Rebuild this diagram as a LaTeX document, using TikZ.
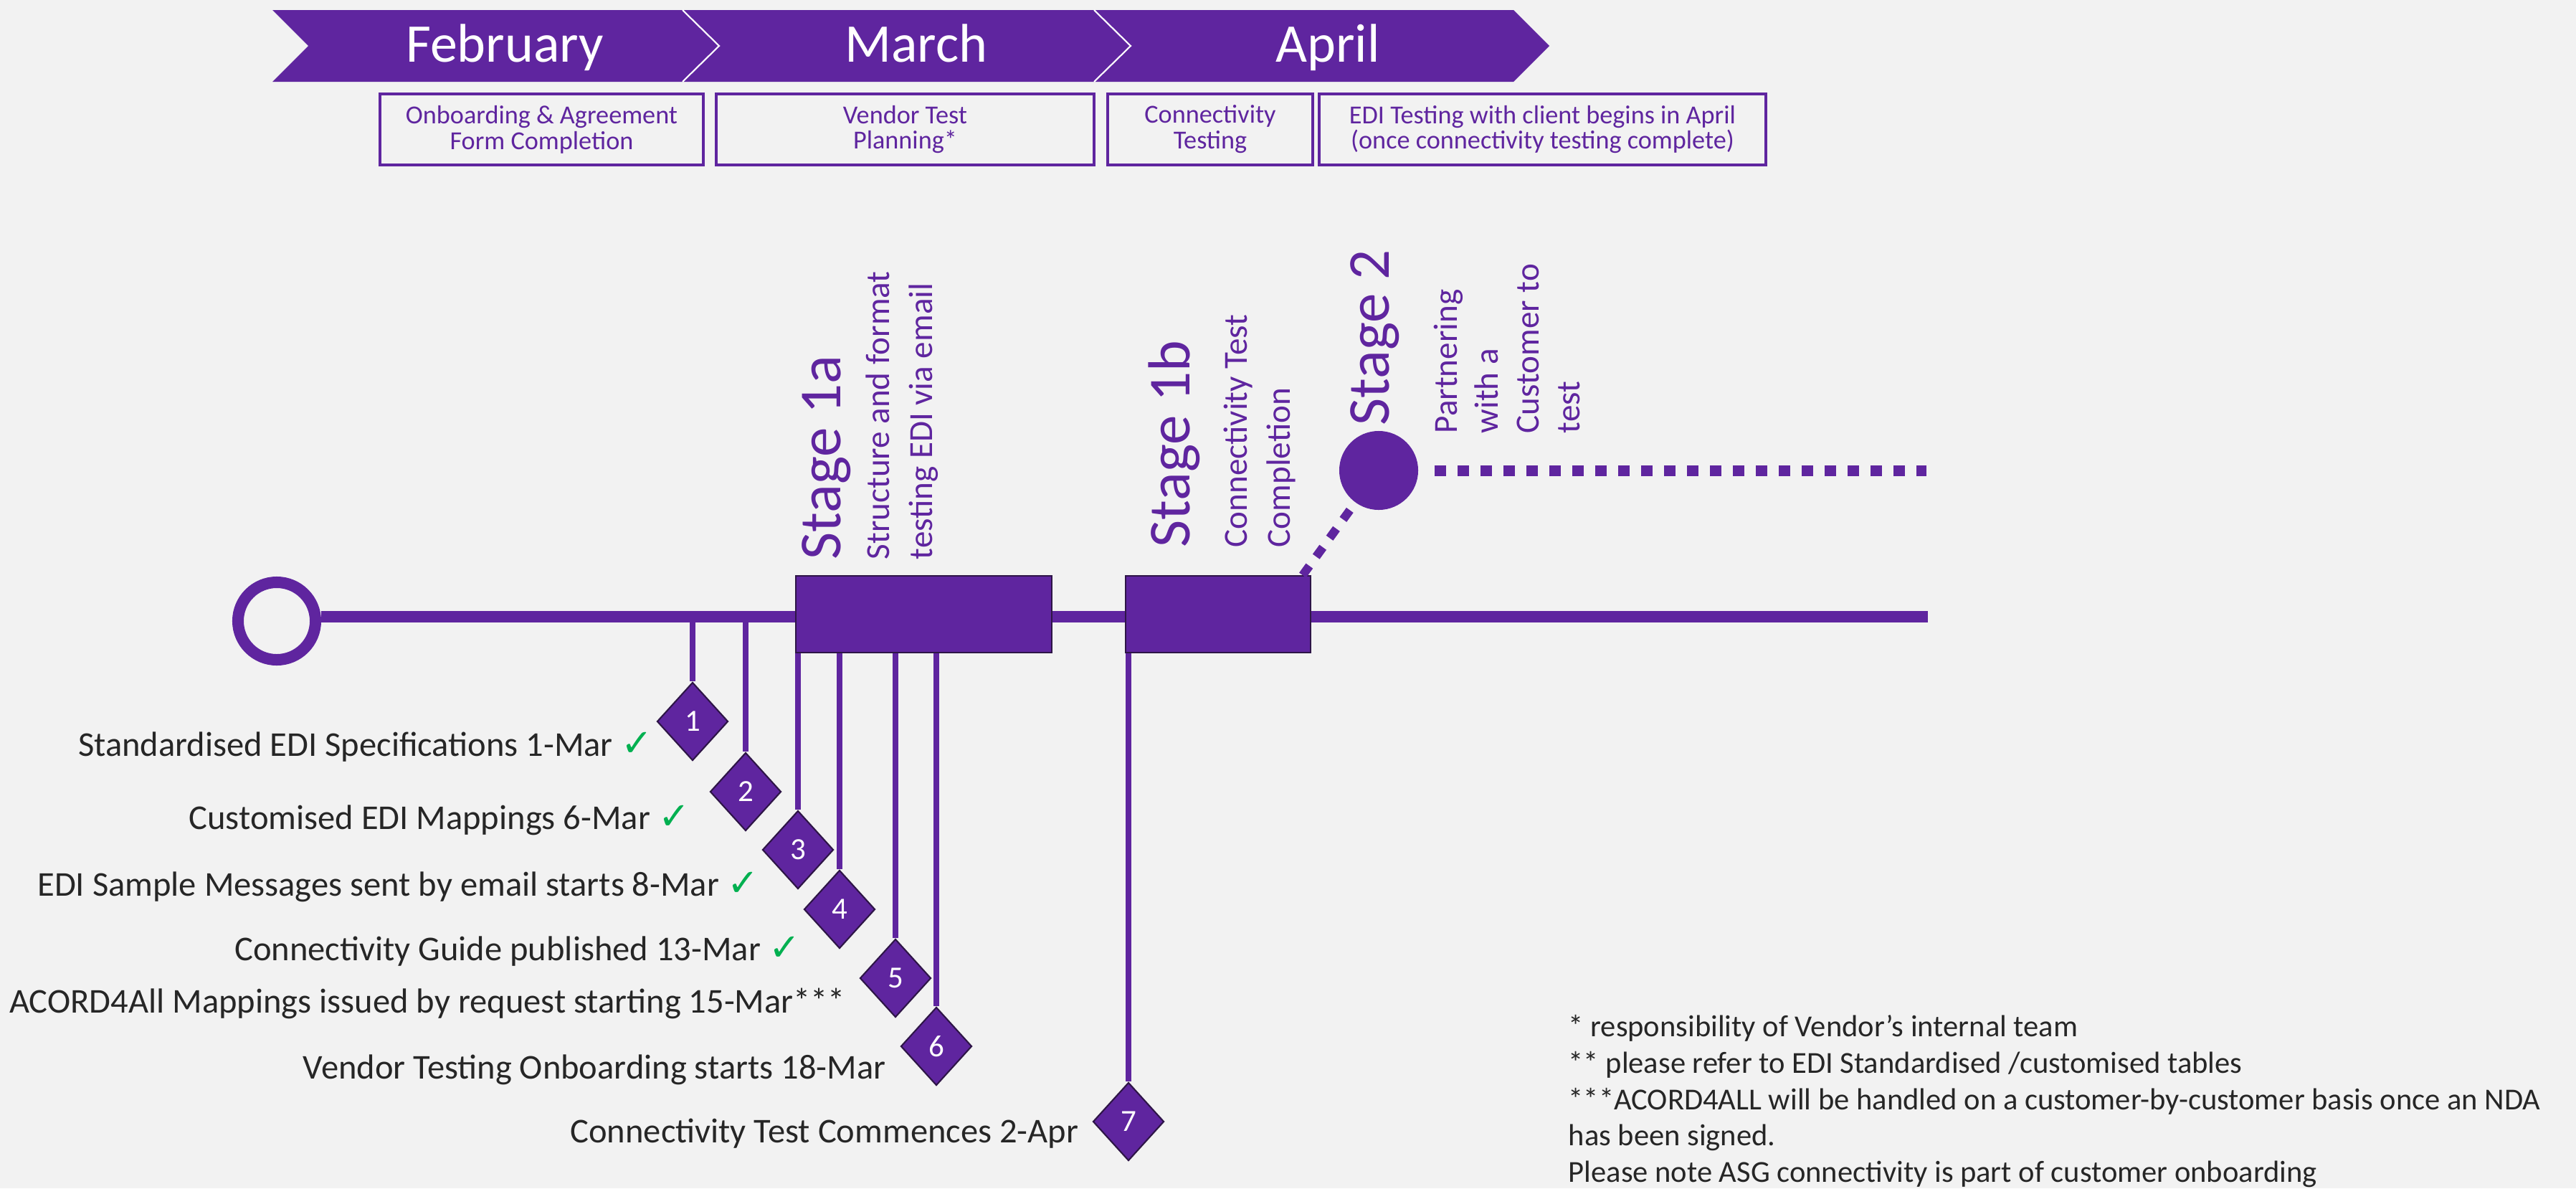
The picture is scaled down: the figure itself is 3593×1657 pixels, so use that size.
\documentclass[tikz,border=0pt]{standalone}
\usepackage{fontspec}
\setmainfont{Carlito}
\newfontfamily\ticksym{DejaVu Sans}
\usetikzlibrary{shapes.geometric, positioning}

\definecolor{asgpurple}{HTML}{5F259F}
\definecolor{bggray}{HTML}{F2F2F2}
\definecolor{darkline}{HTML}{2E1547}
\definecolor{okgreen}{HTML}{00B050}
\definecolor{labelgray}{HTML}{262626}

\newcommand{\done}{ {\ticksym\fontsize{15}{16}\selectfont\color{okgreen}✓}}

\begin{document}
\begin{tikzpicture}
  [x=0.01cm, y=-0.01cm,
   month/.style={text=white,font=\fontsize{21.6}{26}\selectfont,anchor=base,inner sep=0},
   phase/.style={rectangle,draw=asgpurple,line width=1.1pt,text=asgpurple,align=center,
                 font=\fontsize{10.3}{10.2}\selectfont,minimum height=0.99cm,inner sep=0},
   stagebox/.style={rectangle,fill=asgpurple,draw=darkline,line width=0.5pt,minimum height=1.07cm,inner sep=0},
   milestone/.style={diamond,fill=asgpurple,draw=darkline,line width=0.6pt,minimum width=0.99cm,
                     minimum height=1.09cm,inner sep=0,text=white,font=\fontsize{12.2}{14}\selectfont},
   tickline/.style={asgpurple,line width=2.2pt},
   mlabel/.style={text=labelgray,anchor=base east,inner sep=0,font=\fontsize{13.8}{16}\selectfont},
   stagetitle/.style={rotate=90,anchor=north west,inner sep=0,text=asgpurple,font=\fontsize{23.6}{28}\selectfont},
   stagetext/.style={rotate=90,anchor=north west,inner sep=0,text=asgpurple,align=left,font=\fontsize{13.4}{17}\selectfont},
   squaredots/.style={asgpurple,line width=0.15cm,dash pattern=on 0.16cm off 0.16cm}]

  \useasboundingbox (0,0) rectangle (3593,1657);
  \fill[bggray] (0,0) rectangle (3593,1657);

  % month chevrons
  \fill[asgpurple] (380,14) -- (952,14) -- (1003,64) -- (952,114) -- (380,114) -- (430,64) -- cycle;
  \fill[asgpurple] (952,14) -- (1526,14) -- (1577,64) -- (1526,114) -- (952,114) -- (1003,64) -- cycle;
  \fill[asgpurple] (1526,14) -- (2111,14) -- (2161,64) -- (2111,114) -- (1526,114) -- (1577,64) -- cycle;
  \draw[white,line width=0.6pt] (952,14) -- (1003,64) -- (952,114);
  \draw[white,line width=0.6pt] (1526,14) -- (1577,64) -- (1526,114);
  \node[month] (feb) at (704,86) {February};
  \node[month] (mar) at (1278,86) {March};
  \node[month] (apr) at (1852,86) {April};

  % phases
  \node[phase,minimum width=4.51cm] (onb) at (755.5,180.5) {Onboarding \& Agreement\\Form Completion};
  \node[phase,minimum width=5.27cm] (vtp) at (1262.5,180.5) {Vendor Test\\Planning*};
  \node[phase,minimum width=2.86cm] (cnt) at (1688,180.5) {Connectivity\\Testing};
  \node[phase,minimum width=6.23cm] (edi) at (2151.5,180.5) {EDI Testing with client begins in April\\(once connectivity testing complete)};

  % timeline
  \node[circle,draw=asgpurple,line width=4.55pt,fill=bggray,minimum size=1.08cm,inner sep=0] (start) at (386,866) {};
  \coordinate (lineend) at (2689,860);
  \draw[asgpurple,line width=4.55pt] (start.east |- lineend) -- (lineend);

  \node[milestone] (m1) at (966,1006) {1};
  \node[milestone] (m2) at (1040,1104) {2};
  \node[milestone] (m3) at (1113,1185) {3};
  \node[milestone] (m4) at (1171,1268) {4};
  \node[milestone] (m5) at (1249,1364) {5};
  \node[milestone] (m6) at (1306,1459) {6};
  \node[milestone] (m7) at (1574,1564) {7};

  \draw[tickline] (m1 |- lineend) -- (m1.north);
  \draw[tickline] (m2 |- lineend) -- (m2.north);
  \draw[tickline] (m3 |- lineend) -- (m3.north);
  \draw[tickline] (m4 |- lineend) -- (m4.north);
  \draw[tickline] (m5 |- lineend) -- (m5.north);
  \draw[tickline] (m6 |- lineend) -- (m6.north);
  \draw[tickline] (m7 |- lineend) -- (m7.north);

  \node[stagebox,minimum width=3.57cm] (s1a) at (1288.5,856.5) {};
  \node[stagebox,minimum width=2.58cm] (s1b) at (1699,856.5) {};

  % stage 2
  \node[circle,fill=asgpurple,minimum size=1.1cm,inner sep=0] (s2) at (1923,656) {};
  \coordinate (dotend) at (2687,656);
  \draw[squaredots,shorten <=0.22cm] (s2.east) -- (dotend);
  \draw[squaredots,line width=0.12cm] ([xshift=-0.12cm]s1b.north east) -- (s2);

  \node[stagetitle] (t1a) at (1118,781) {Stage 1a};
  \node[stagetext] (x1a) at (1207,781) {Structure and format\\testing EDI via email};
  \node[stagetitle] (t1b) at (1601,764) {Stage 1b};
  \node[stagetext] (x1b) at (1706,764) {Connectivity Test\\Completion};
  \node[stagetitle] (t2) at (1883,594) {Stage 2};
  \node[stagetext,font=\fontsize{13.4}{16.2}\selectfont] (x2) at (1999,605) {Partnering\\with a\\Customer to\\test};

  % milestone labels
  \node[mlabel] (l1) at (911,1054) {Standardised EDI Specifications 1-Mar\done};
  \node[mlabel] (l2) at (963,1156) {Customised EDI Mappings 6-Mar\done};
  \node[mlabel] (l3) at (1059,1249) {EDI Sample Messages sent by email starts 8-Mar\done};
  \node[mlabel] (l4) at (1117,1339) {Connectivity Guide published 13-Mar\done};
  \node[mlabel] (l5) at (1180,1412) {ACORD4All Mappings issued by request starting 15-Mar***};
  \node[mlabel] (l6) at (1236,1504) {Vendor Testing Onboarding starts 18-Mar};
  \node[mlabel] (l7) at (1505,1593) {Connectivity Test Commences 2-Apr};

  % notes
  \node[anchor=north west,align=left,inner sep=0,text=labelgray,font=\fontsize{12.1}{14.4}\selectfont] (notes) at (2187,1415)
    {* responsibility of Vendor’s internal team\\{}** please refer to EDI Standardised /customised tables\\{}***ACORD4ALL will be handled on a customer-by-customer basis once an NDA\\has been signed.\\Please note ASG connectivity is part of customer onboarding};

\end{tikzpicture}
\end{document}
